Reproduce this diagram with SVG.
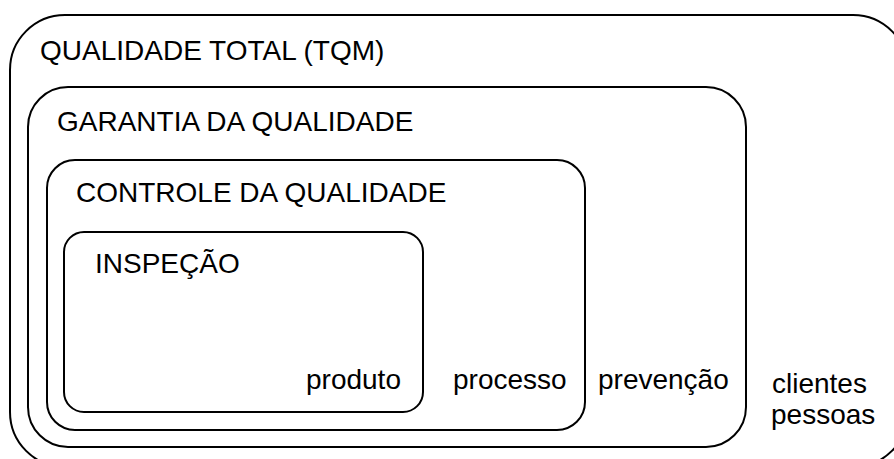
<svg xmlns="http://www.w3.org/2000/svg" width="894" height="459" viewBox="0 0 894 459">
<style>
.box{fill:none;stroke:#000;stroke-width:2}
.t{font-family:"Liberation Sans",Arial,sans-serif;font-size:28px;fill:#000}
</style>
<rect width="894" height="459" fill="#fff"/>
<g id="tqm">
<rect class="box" x="10" y="15" width="898" height="452" rx="55" ry="55"/>
<text class="t" x="40" y="60">QUALIDADE TOTAL (TQM)</text>
<text class="t" x="772" y="393">clientes</text>
<text class="t" x="771" y="424">pessoas</text>
</g>
<g id="garantia">
<rect class="box" x="28" y="87" width="718" height="360" rx="40" ry="40"/>
<text class="t" x="57" y="131">GARANTIA DA QUALIDADE</text>
<text class="t" x="598" y="389">prevenção</text>
</g>
<g id="controle">
<rect class="box" x="47" y="160" width="538" height="270" rx="28" ry="28"/>
<text class="t" x="76" y="202">CONTROLE DA QUALIDADE</text>
<text class="t" x="453" y="389">processo</text>
</g>
<g id="inspecao">
<rect class="box" x="64" y="232" width="359" height="180" rx="20" ry="20"/>
<text class="t" x="95" y="273">INSPEÇÃO</text>
<text class="t" x="306" y="389">produto</text>
</g>
<g id="connectors"/>
</svg>
